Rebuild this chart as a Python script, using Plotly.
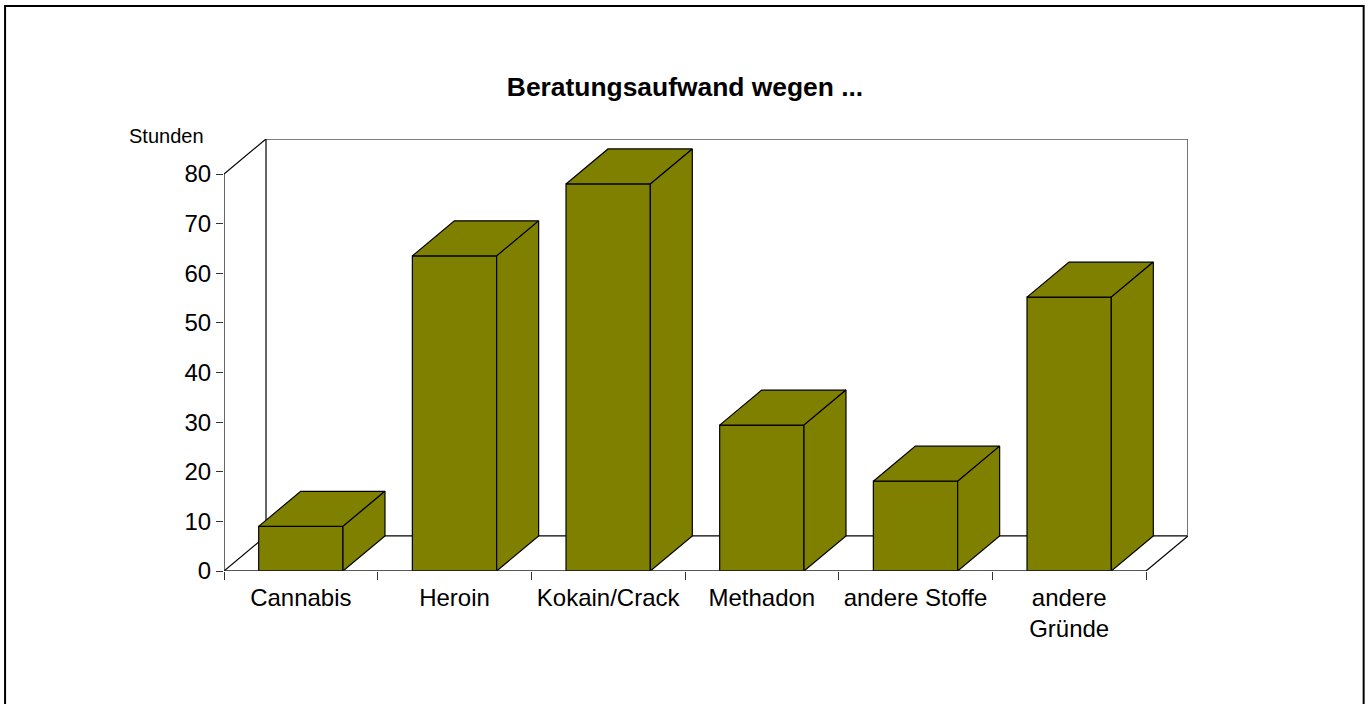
import plotly.graph_objects as go

categories = ["Cannabis", "Heroin", "Kokain/Crack", "Methadon", "andere Stoffe", "andere<br>Gründe"]
hours = [9, 63.5, 78, 29.4, 18.1, 55.2]
y_ticks = [0, 10, 20, 30, 40, 50, 60, 70, 80]

OLIVE = "#808000"
BAR_W = 0.5486
DX, DY = 0.2733, 7.06
W, H = 1372, 704
L, R, T, B = 224, 1188.3, 139.3, 570.7
N = len(categories)
centers = [i + 0.5 for i in range(N)]
ymax = y_ticks[-1] + DY
xmax = N + DX


def px(v):
    return (v - L) / (R - L)


def py(v):
    return (B - v) / (B - T)


fig = go.Figure()
fig.add_bar(x=centers, y=hours, width=BAR_W, marker=dict(color=OLIVE, line=dict(color="black", width=1.2)),
            hoverinfo="skip", showlegend=False)

for c, v in zip(centers, hours):
    x0, x1 = c - BAR_W / 2, c + BAR_W / 2
    fig.add_scatter(x=[x0, x0 + DX, x1 + DX, x1, x0], y=[v, v + DY, v + DY, v, v], mode="lines", fill="toself",
                    fillcolor=OLIVE, line=dict(color="black", width=1.2), cliponaxis=False, hoverinfo="skip", showlegend=False)
    fig.add_scatter(x=[x1, x1 + DX, x1 + DX, x1, x1], y=[0, DY, v + DY, v, 0], mode="lines", fill="toself",
                    fillcolor=OLIVE, line=dict(color="black", width=1.2), cliponaxis=False, hoverinfo="skip", showlegend=False)

# wall and floor edges that no bar can hide
edges = [
    ([0, 0, DX, xmax], [0, y_ticks[-1], ymax, ymax], "black", 1.2),
    ([0, N], [0, 0], "#222222", 1.6),
    ([N, xmax], [0, DY], "black", 1.2),
    ([xmax, xmax], [DY, ymax], "#666666", 1.8),
]
for ex, ey, col, w in edges:
    fig.add_scatter(x=ex, y=ey, mode="lines", line=dict(color=col, width=w), cliponaxis=False,
                    hoverinfo="skip", showlegend=False)

shapes = [
    dict(type="line", xref="x", yref="y", x0=DX, x1=xmax, y0=DY, y1=DY, layer="below", line=dict(color="black", width=1.2)),
    dict(type="line", xref="x", yref="y", x0=0, x1=DX, y0=0, y1=DY, layer="below", line=dict(color="black", width=1.2)),
    dict(type="line", xref="x", yref="y", x0=DX, x1=DX, y0=DY, y1=ymax, layer="below", line=dict(color="#333333", width=1.5)),
    # page frame, open at the bottom
    dict(type="path", xref="paper", yref="paper", layer="above",
         path=f"M {px(5)} {py(710)} L {px(5)} {py(6.5)} L {px(1364)} {py(6.5)} L {px(1364)} {py(710)}",
         line=dict(color="black", width=2)),
]

fig.update_layout(
    width=W, height=H, margin=dict(l=L, r=W - R, t=T, b=H - B, pad=0, autoexpand=False),
    paper_bgcolor="white", plot_bgcolor="white", showlegend=False, shapes=shapes,
    font=dict(family="Liberation Sans, Arial, sans-serif", color="black"),
    title=dict(text="<b>Beratungsaufwand wegen ...</b>", font=dict(size=26.4), x=685 / W, xanchor="center",
               y=1 - 87 / H, yanchor="middle", xref="container", yref="container"),
    xaxis=dict(range=[0, xmax], tickvals=centers, ticktext=categories, ticks="", showgrid=False, zeroline=False,
               showline=False, tickangle=0, tickfont=dict(size=24), ticklabelstandoff=10,
               minor=dict(tickmode="array", tickvals=list(range(N + 1)), ticks="outside", ticklen=8, tickwidth=1.2,
                          tickcolor="#333333", showgrid=False)),
    yaxis=dict(range=[0, ymax], tickvals=y_ticks, ticks="outside", ticklen=7, tickwidth=1.2, tickcolor="#333333",
               showgrid=False, zeroline=False, showline=False, tickfont=dict(size=24)),
    annotations=[dict(text="Stunden", xref="paper", yref="paper", x=px(166.5), y=py(136), xanchor="center",
                      yanchor="middle", showarrow=False, font=dict(size=20))],
)

fig.write_html("out.html", post_script="document.body.style.margin='0';", config={"displayModeBar": False})
